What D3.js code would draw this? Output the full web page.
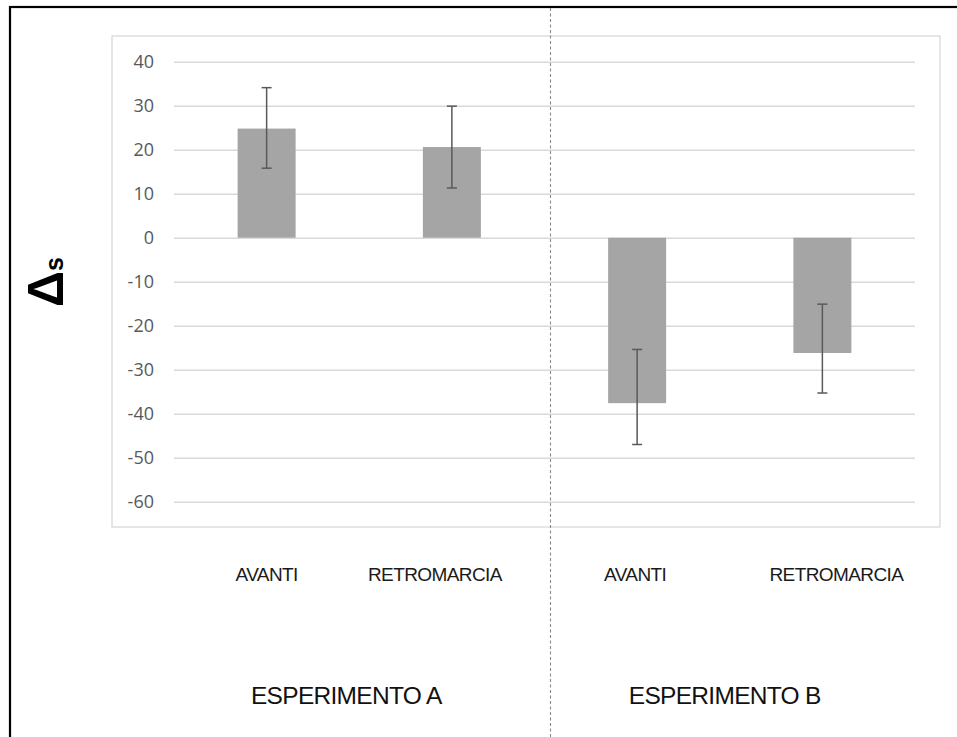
<!DOCTYPE html>
<html>
<head>
<meta charset="utf-8">
<script src="https://cdn.jsdelivr.net/npm/d3@7"></script>
<style>
  html, body { margin: 0; padding: 0; background: #ffffff; }
  svg { display: block; }
</style>
</head>
<body>
<svg id="chart" width="957" height="737"></svg>
<script>
// Mean Δs per condition, with the ends of each error bar
const conditions = ["AVANTI", "RETROMARCIA", "AVANTI", "RETROMARCIA"];
const experiments = ["ESPERIMENTO A", "ESPERIMENTO B"];
const experimentOf = [0, 0, 1, 1];
const means = [24.8, 20.6, -37.6, -26.2];
const errLow = [15.8, 11.3, -47.0, -35.3];
const errHigh = [34.1, 29.9, -25.4, -15.1];
const yTicks = [40, 30, 20, 10, 0, -10, -20, -30, -40, -50, -60];

const svg = d3.select("#chart");
const ids = d3.range(conditions.length);

const x = d3.scaleBand()
  .domain(ids)
  .range([174, 915])
  .paddingInner(0.687)
  .paddingOuter(0.3435);

const y = d3.scaleLinear()
  .domain([-60, 40])
  .range([501.7, 61.7]);

// Outer frame (runs off the right and bottom edges)
svg.append("rect")
  .attr("x", 10).attr("y", 7)
  .attr("width", 1000).attr("height", 800)
  .attr("fill", "none")
  .attr("stroke", "#000")
  .attr("stroke-width", 2.2);

// Plot area frame
svg.append("rect")
  .attr("x", 112).attr("y", 36)
  .attr("width", 828).attr("height", 491)
  .attr("fill", "none")
  .attr("stroke", "#d9d9d9")
  .attr("stroke-width", 1.3);

// Gridlines and tick labels
const yAxis = d3.axisLeft(y)
  .tickValues(yTicks)
  .tickSize(-(915 - 174))
  .tickPadding(20)
  .tickFormat(d => String(d));

const gAxis = svg.append("g")
  .attr("transform", "translate(174,0)")
  .call(yAxis);
gAxis.select(".domain").remove();
gAxis.selectAll(".tick line")
  .attr("stroke", "#d9d9d9")
  .attr("stroke-width", 1.4);
gAxis.selectAll(".tick text")
  .attr("fill", "#595959")
  .attr("font-family", "'Open Sans', sans-serif")
  .attr("font-size", 18)
  .attr("dy", "0.34em");

// Bars
svg.append("g").selectAll("rect")
  .data(ids)
  .join("rect")
  .attr("x", i => x(i))
  .attr("width", x.bandwidth())
  .attr("y", i => y(Math.max(0, means[i])))
  .attr("height", i => Math.abs(y(means[i]) - y(0)))
  .attr("fill", "#a5a5a5");

// Error bars
const eb = svg.append("g")
  .attr("stroke", "#595959")
  .attr("stroke-width", 1.5);
ids.forEach(i => {
  const cx = x(i) + x.bandwidth() / 2;
  eb.append("line")
    .attr("x1", cx).attr("x2", cx)
    .attr("y1", y(errLow[i])).attr("y2", y(errHigh[i]));
  [errLow[i], errHigh[i]].forEach(v => {
    eb.append("line")
      .attr("x1", cx - 5).attr("x2", cx + 5)
      .attr("y1", y(v)).attr("y2", y(v));
  });
});

// Dashed divider between the two experiments
const divX = (x(1) + x.bandwidth() + x(2)) / 2 + 6;
svg.append("line")
  .attr("x1", divX).attr("x2", divX)
  .attr("y1", 8).attr("y2", 737)
  .attr("stroke", "#8a8a8a")
  .attr("stroke-width", 1.1)
  .attr("stroke-dasharray", "3,2.5");

// Condition labels under each bar
const labelShift = [0, -17, -2, 14];
svg.append("g").selectAll("text")
  .data(ids)
  .join("text")
  .attr("x", i => x(i) + x.bandwidth() / 2 + labelShift[i])
  .attr("y", 581)
  .attr("text-anchor", "middle")
  .attr("font-family", "'Liberation Sans', Arial, sans-serif")
  .attr("font-size", 19)
  .attr("letter-spacing", -0.6)
  .attr("fill", "#1a1a1a")
  .text(i => conditions[i]);

// Experiment labels
const groupShift = [-13, -5];
svg.append("g").selectAll("text")
  .data(experiments)
  .join("text")
  .attr("x", (d, g) => {
    const members = ids.filter(i => experimentOf[i] === g);
    const c = d3.mean(members, i => x(i) + x.bandwidth() / 2);
    return c + groupShift[g];
  })
  .attr("y", 704)
  .attr("text-anchor", "middle")
  .attr("font-family", "'Liberation Sans', Arial, sans-serif")
  .attr("font-size", 24.5)
  .attr("letter-spacing", -0.7)
  .attr("fill", "#111")
  .text(d => d);

// Y axis title
const yTitle = svg.append("text")
  .attr("transform", "translate(63,307) rotate(-90)")
  .attr("font-family", "'Liberation Sans', Arial, sans-serif")
  .attr("fill", "#000");
yTitle.append("tspan")
  .attr("font-size", 50)
  .attr("font-weight", "bold")
  .text("Δ");
yTitle.append("tspan")
  .attr("font-size", 25)
  .attr("font-weight", "bold")
  .text("s");
</script>
</body>
</html>
